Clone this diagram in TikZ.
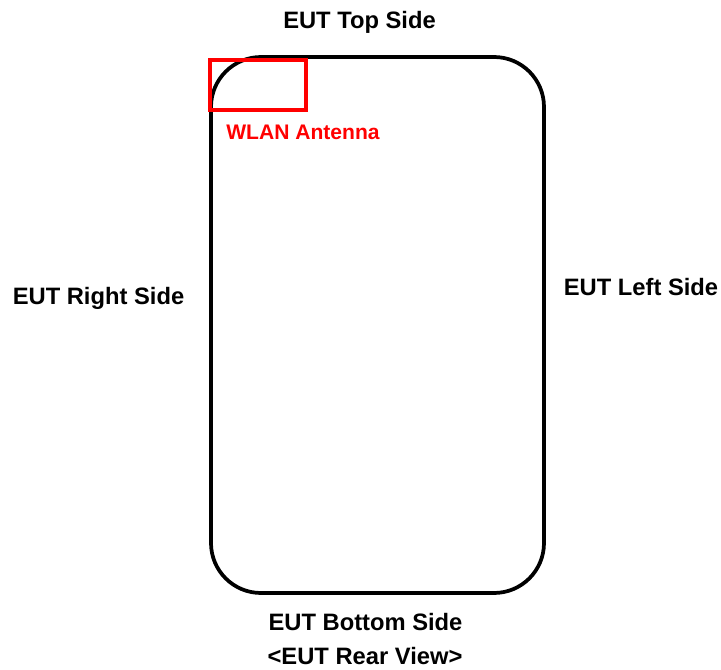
\documentclass[tikz,border=0pt]{standalone}
\usepackage{fontspec}
\setmainfont{Liberation Sans}
\begin{document}
\begin{tikzpicture}[x=0.75pt,y=-0.75pt,
  lbl/.style={font=\fontsize{17.8pt}{20pt}\selectfont\bfseries, inner sep=0pt, anchor=base},
  antlbl/.style={font=\fontsize{15.8pt}{18pt}\selectfont\bfseries, text=red, inner sep=0pt, anchor=base},
  body/.style={draw=black, line width=2.8pt, rounded corners=37.5pt},
  antbox/.style={draw=red, line width=2.8pt}]
\useasboundingbox (0,0) rectangle (721,670);
\draw[body] (211,57) rectangle (544,593);
\draw[antbox] (210,60) rectangle (306,110);
\node[lbl] (top) at (359.5,29) {EUT Top Side};
\node[lbl] (right) at (98.5,305) {EUT Right Side};
\node[lbl] (left) at (641,296) {EUT Left Side};
\node[lbl] (bottom) at (365.5,630) {EUT Bottom Side};
\node[lbl] (rear) at (365,664) {<EUT Rear View>};
\node[antlbl] (ant) at (303,140) {WLAN Antenna};
\end{tikzpicture}
\end{document}
